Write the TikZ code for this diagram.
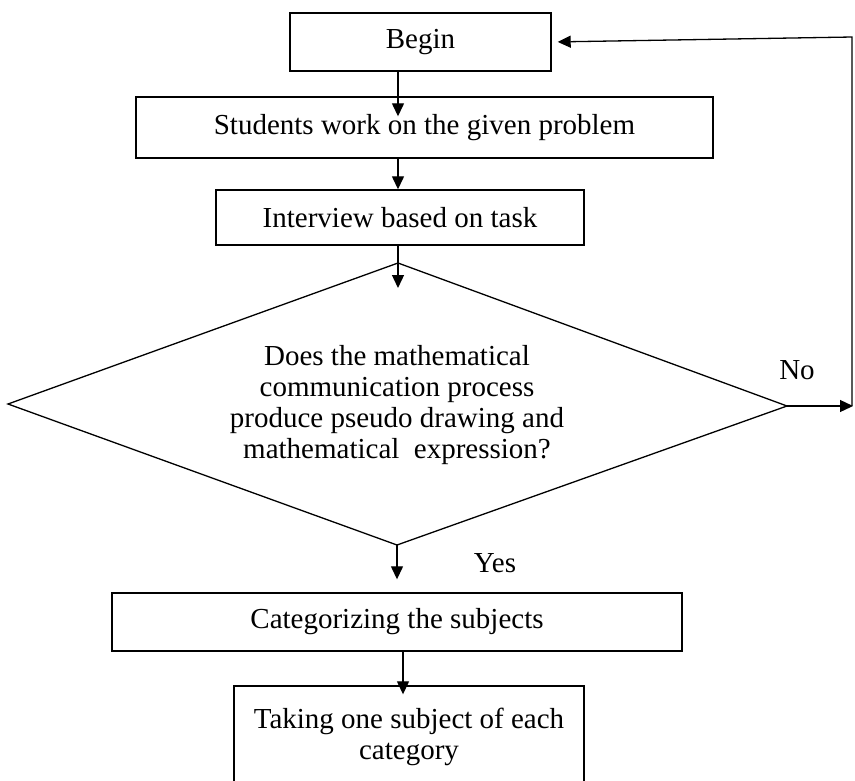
\documentclass[tikz,border=0pt]{standalone}
\usepackage{fontspec}
\setmainfont{Liberation Serif}
\usetikzlibrary{arrows.meta,calc}
\begin{document}
\begin{tikzpicture}[x=1pt,y=-1pt,
  font=\fontsize{29}{31}\selectfont,
  box/.style={draw,line width=1.4pt,rectangle,inner sep=0pt,align=center},
  arr/.style={line width=1.3pt,-{Triangle[length=13pt,width=12pt]}},
  lbl/.style={inner sep=0pt}]
\useasboundingbox (0,0) rectangle (855,780);
\clip (0,0) rectangle (855,780);
\coordinate (cx) at (398,0);
\coordinate (cx2) at (403,0);
\node[box,minimum width=261pt,minimum height=58pt] (begin) at (420.5,42) {Begin};
\node[box,minimum width=577pt,minimum height=61pt] (students) at (424.5,127.5) {Students work on the given problem};
\node[box,minimum width=368pt,minimum height=55pt] (interview) at (400,217.5) {Interview based on task};
\coordinate (dT) at (398,263);
\coordinate (dR) at (787,406);
\coordinate (dB) at (397,545);
\coordinate (dL) at (8,404);
\draw[line width=1.3pt] (dL) -- (dT) -- (dR) -- (dB) -- cycle;
\node[lbl,align=center] (question) at (397,405) {Does the mathematical\\communication process\\produce pseudo drawing and\\mathematical\ \ expression?};
\node[box,minimum width=570pt,minimum height=58pt] (categ) at (397,622) {Categorizing the subjects};
\node[box,minimum width=350pt,minimum height=102pt] (take) at (409,737) {Taking one subject of each\\category};
\node[lbl] (yes) at (495,563) {Yes};
\node[lbl] (no) at (797,370) {No};
\coordinate (corner) at (852,406);
\coordinate (topcorner) at (852,37);
\draw[arr,shorten >=-20pt] (begin.south -| cx) -- (students.north -| cx);
\draw[arr] (students.south -| cx) -- (interview.north -| cx);
\draw[arr,shorten >=-25pt] (interview.south -| dT) -- (dT);
\draw[arr,shorten >=13pt] (dB) -- (categ.north -| dB);
\draw[arr,shorten >=-9pt] (categ.south -| cx2) -- (take.north -| cx2);
\draw[arr,shorten >=-1pt] (dR) -- (corner);
\draw[arr,shorten >=6pt] (corner) -- (topcorner) -- (begin.east);
\end{tikzpicture}
\end{document}
